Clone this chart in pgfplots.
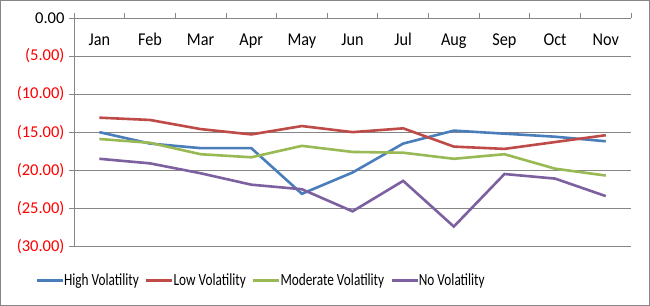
\documentclass[border=0pt]{standalone}
\usepackage{graphicx}
\usepackage{pgfplots}
\pgfplotsset{compat=1.18}
\usepackage{fontspec}
\setmainfont{Carlito}
\definecolor{sblue}{HTML}{4A7EBB}
\definecolor{sred}{HTML}{BE4B48}
\definecolor{sgreen}{HTML}{98B954}
\definecolor{spurple}{HTML}{7D60A0}
\definecolor{gridgray}{HTML}{868686}
\newcommand{\legtxt}[1]{\scalebox{0.78}[1]{#1}}
\newcommand{\mx}[1]{\scalebox{0.9}[1]{#1}}
\begin{document}
\begin{tikzpicture}
\begin{axis}[
  scale only axis,
  width=556pt, height=228pt,
  xmin=-0.5, xmax=10.5,
  ymin=-30, ymax=0,
  clip=false,
  axis x line*=top,
  axis y line*=left,
  axis line style={gridgray, line width=0.8pt},
  xtick={0,...,10},
  xticklabels={\mx{Jan},\mx{Feb},\mx{Mar},\mx{Apr},\mx{May},\mx{Jun},\mx{Jul},\mx{Aug},\mx{Sep},\mx{Oct},\mx{Nov}},
  minor xtick={-0.5,0.5,...,10.5},
  major x tick style={draw=none},
  minor tick length=5pt,
  major tick length=5pt,
  tick align=outside,
  tick style={gridgray, line width=0.8pt},
  xticklabel style={anchor=base, yshift=-33pt, font=\fontsize{18}{20}\selectfont},
  ytick={0,-5,-10,-15,-20,-25,-30},
  yticklabels={0.00,{\textcolor{red}{(5.00)}},{\textcolor{red}{(10.00)}},{\textcolor{red}{(15.00)}},{\textcolor{red}{(20.00)}},{\textcolor{red}{(25.00)}},{\textcolor{red}{(30.00)}}},
  yticklabel style={font=\fontsize{16.5}{18}\selectfont, xshift=-1pt},
  ymajorgrids,
  grid style={gridgray, line width=0.8pt},
  legend columns=4,
  legend style={draw=none, fill=none, at={(axis description cs:-0.075,-0.15)}, anchor=west,
    font=\fontsize{17}{19}\selectfont,
    /tikz/every even column/.append style={column sep=4pt},
    /tikz/every odd column/.append style={column sep=-2pt}},
  legend image code/.code={\draw[#1, line width=2.6pt] (0pt,0pt) -- (26pt,0pt);},
  every axis plot/.append style={line width=2.6pt},
]
\addplot[sblue] coordinates {(0,-15.0) (1,-16.5) (2,-17.1) (3,-17.1) (4,-23.1) (5,-20.3) (6,-16.5) (7,-14.8) (8,-15.2) (9,-15.6) (10,-16.2)};
\addlegendentry{\legtxt{High Volatility}}
\addplot[sred] coordinates {(0,-13.1) (1,-13.4) (2,-14.6) (3,-15.3) (4,-14.2) (5,-15.0) (6,-14.5) (7,-16.9) (8,-17.2) (9,-16.3) (10,-15.4)};
\addlegendentry{\legtxt{Low Volatility}}
\addplot[sgreen] coordinates {(0,-15.9) (1,-16.4) (2,-17.9) (3,-18.3) (4,-16.8) (5,-17.6) (6,-17.7) (7,-18.5) (8,-17.9) (9,-19.8) (10,-20.7)};
\addlegendentry{\legtxt{Moderate Volatility}}
\addplot[spurple] coordinates {(0,-18.5) (1,-19.1) (2,-20.4) (3,-21.9) (4,-22.5) (5,-25.4) (6,-21.4) (7,-27.4) (8,-20.5) (9,-21.1) (10,-23.4)};
\addlegendentry{\legtxt{No Volatility}}
\draw[gridgray, line width=0.8pt] ([xshift=-73.5pt,yshift=17.5pt]rel axis cs:0,1) rectangle ([xshift=18.5pt,yshift=-58.5pt]rel axis cs:1,0);
\end{axis}
\end{tikzpicture}
\end{document}
